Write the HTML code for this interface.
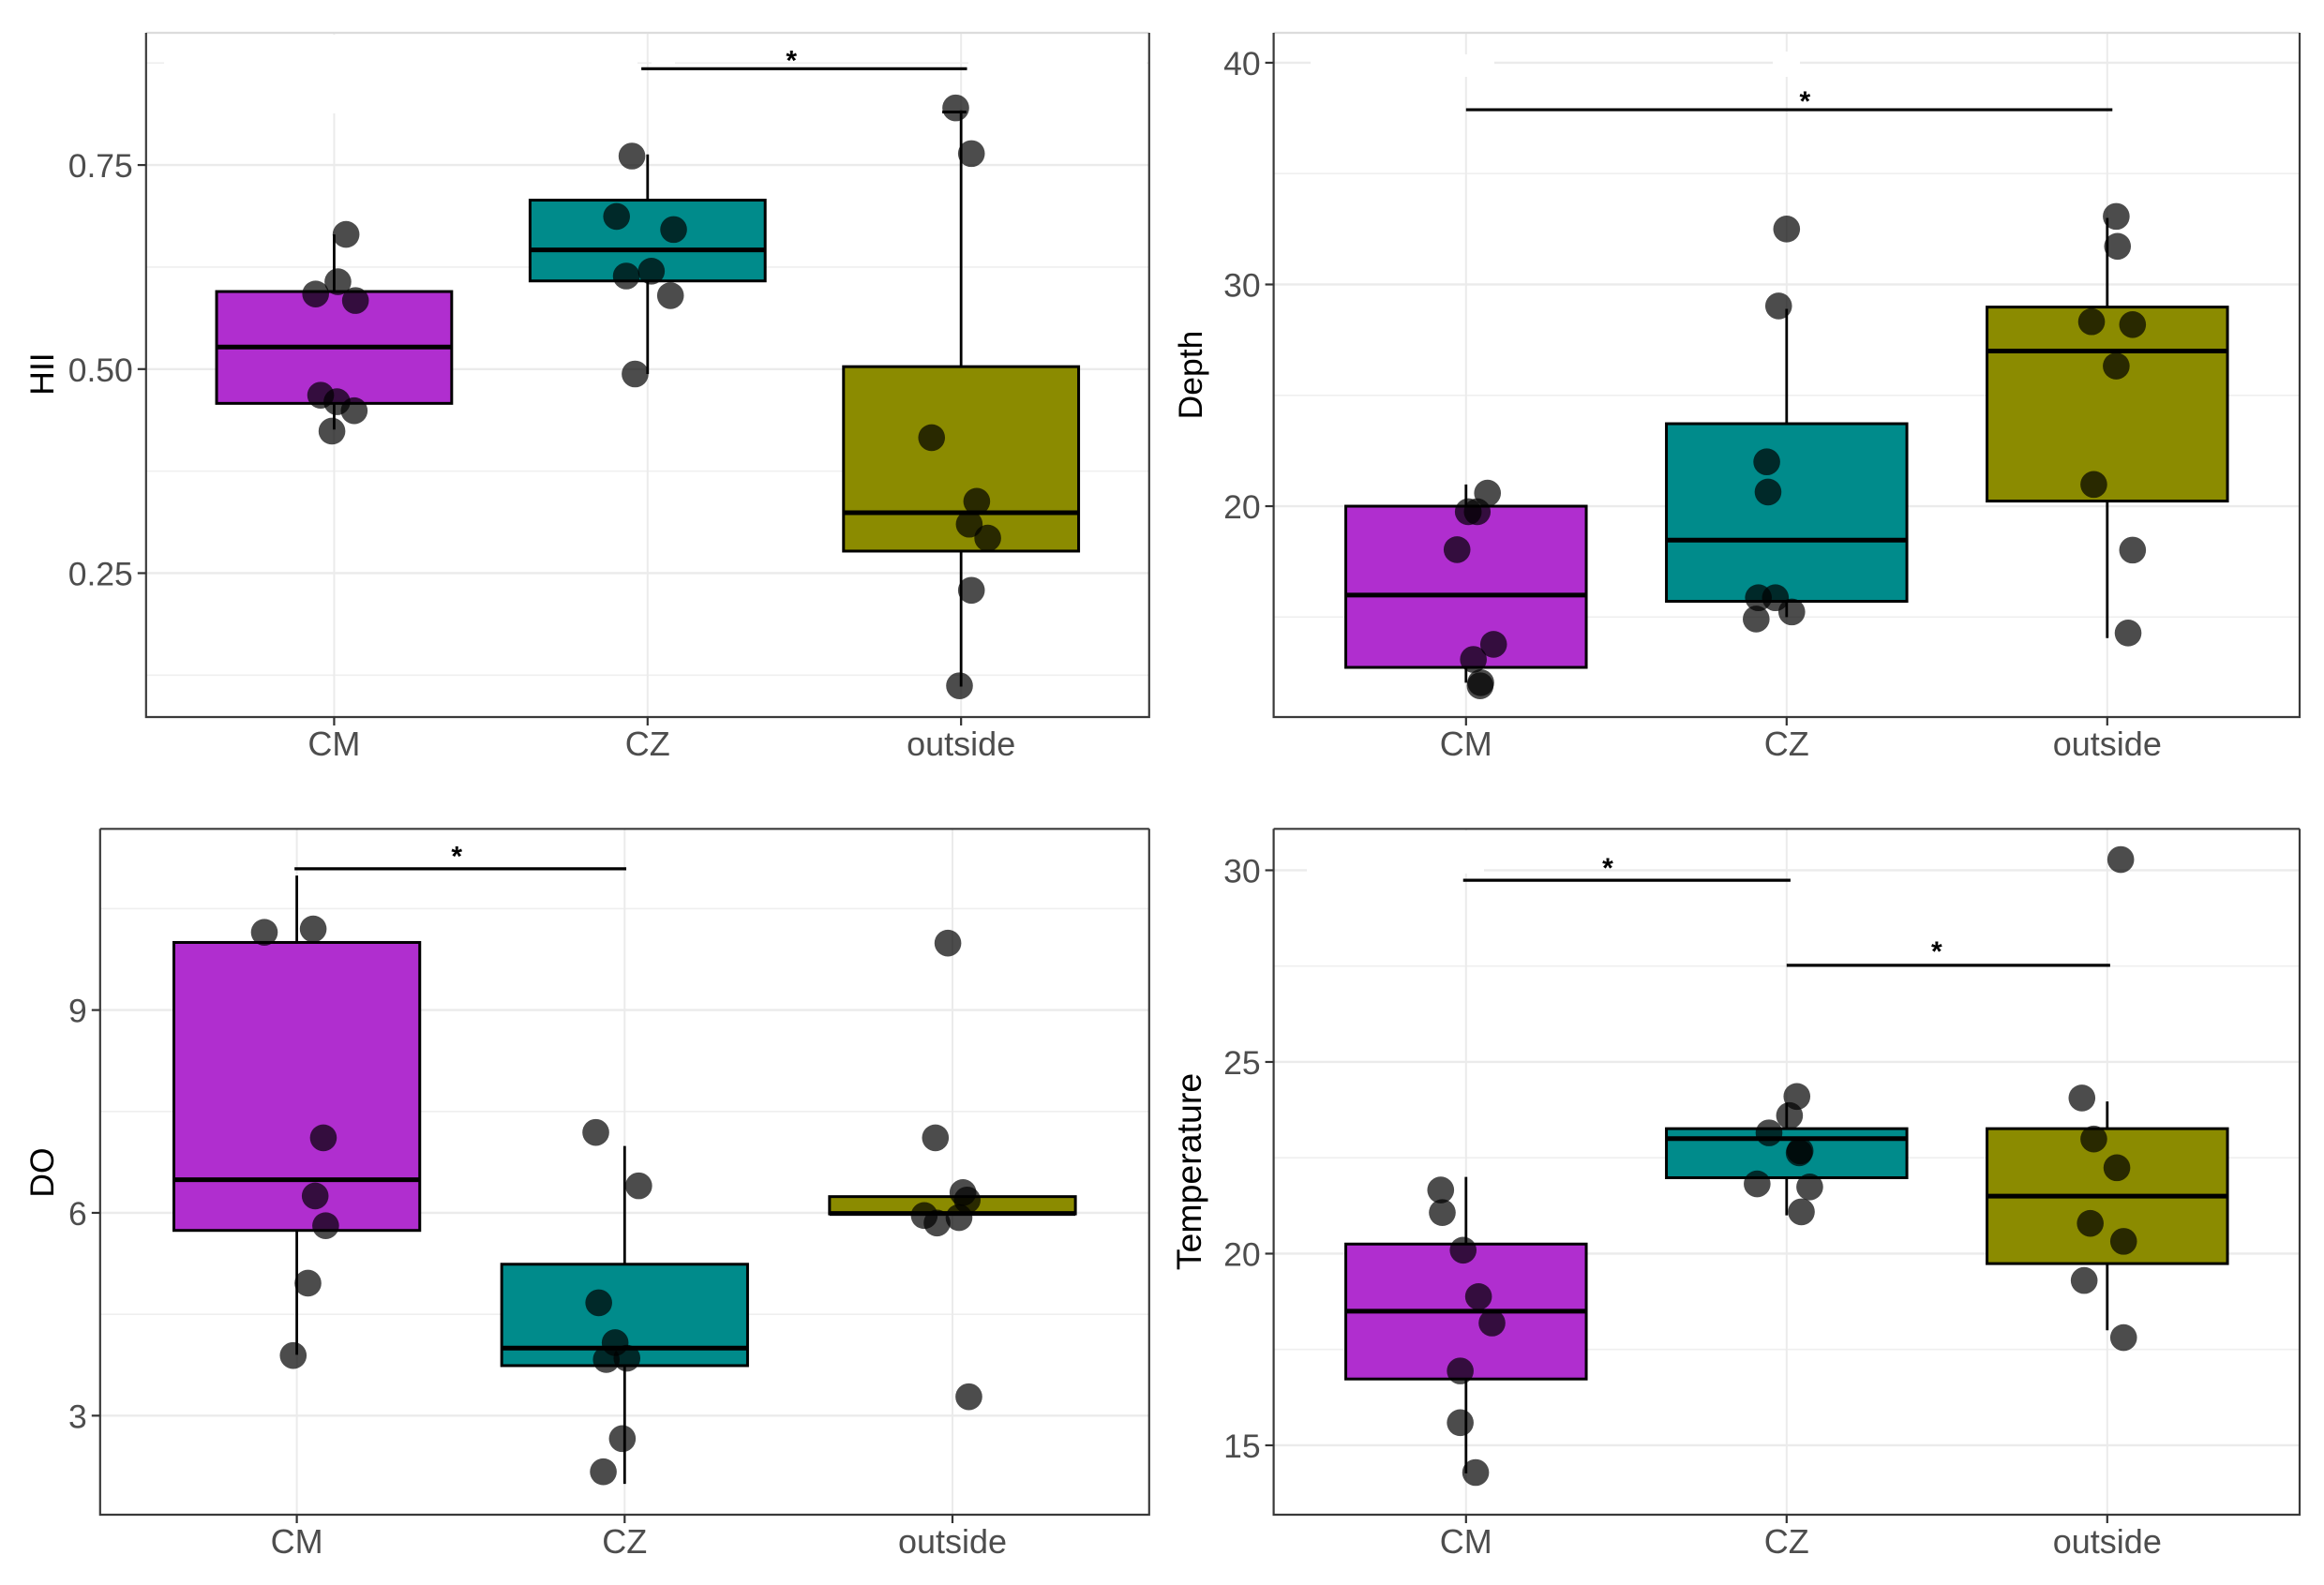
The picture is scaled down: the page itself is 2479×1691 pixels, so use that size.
<!DOCTYPE html>
<html>
<head>
<meta charset="utf-8">
<title>Boxplots of HII, Depth, DO and Temperature</title>
<style>
html,body{margin:0;padding:0;background:#fff;}
svg{display:block;}
text{font-family:"Liberation Sans",sans-serif;}
</style>
</head>
<body>
<svg id="chart" xmlns="http://www.w3.org/2000/svg" width="2479" height="1691" viewBox="0 0 2479 1691"></svg>
<script>
const categories = ['CM', 'CZ', 'outside'];

// HII panel
const hiiTicks = [0.25, 0.5, 0.75];
const hiiTickLabels = ['0.25', '0.50', '0.75'];
const hiiMinorTicks = [0.125, 0.375, 0.625, 0.875];
const hiiQ1 = [0.458, 0.608, 0.277];
const hiiMedian = [0.527, 0.646, 0.324];
const hiiQ3 = [0.595, 0.707, 0.503];
const hiiWhiskerLow = [0.426, 0.494, 0.111];
const hiiWhiskerHigh = [0.665, 0.763, 0.817];
const hiiValues = [
  [0.665, 0.607, 0.592, 0.584, 0.468, 0.460, 0.449, 0.424],
  [0.761, 0.687, 0.671, 0.614, 0.620, 0.590, 0.494],
  [0.820, 0.764, 0.416, 0.338, 0.310, 0.293, 0.229, 0.112]
];
const hiiJitter = [
  [0.038, 0.012, -0.059, 0.068, -0.043, 0.009, 0.064, -0.007],
  [-0.05, -0.099, 0.083, -0.068, 0.012, 0.073, -0.04],
  [-0.017, 0.033, -0.094, 0.05, 0.026, 0.085, 0.033, -0.005]
];
const hiiBrackets = [{from: 0.98, to: 2.019, value: 0.868, star: 1.459, starValue: 0.883}];
const hiiCaps = [{from: 1.94, to: 2.017, value: 0.815}];

// Depth panel
const depthTicks = [20, 30, 40];
const depthTickLabels = ['20', '30', '40'];
const depthMinorTicks = [15, 25, 35];
const depthQ1 = [12.73, 15.71, 20.23];
const depthMedian = [15.99, 18.47, 27.0];
const depthQ3 = [20.0, 23.72, 28.98];
const depthWhiskerLow = [12.04, 15.0, 14.05];
const depthWhiskerHigh = [20.98, 28.9, 33.0];
const depthValues = [
  [20.59, 19.75, 19.75, 18.04, 13.77, 13.09, 12.04, 11.9],
  [32.5, 29.03, 22.0, 20.64, 15.87, 15.87, 15.23, 14.91],
  [33.07, 31.72, 28.32, 28.19, 26.32, 20.98, 18.02, 14.28]
];
const depthJitter = [
  [0.067, 0.035, 0.007, -0.028, 0.086, 0.023, 0.046, 0.044],
  [0, -0.025, -0.062, -0.058, -0.088, -0.035, 0.016, -0.095],
  [0.028, 0.032, -0.049, 0.079, 0.028, -0.042, 0.079, 0.065]
];
const depthBrackets = [{from: 0, to: 2.016, value: 37.88, star: 1.057, starValue: 38.43}];

// DO panel
const doTicks = [3, 6, 9];
const doTickLabels = ['3', '6', '9'];
const doMinorTicks = [4.5, 7.5, 10.5];
const doQ1 = [5.74, 3.74, 5.985];
const doMedian = [6.49, 4.0, 5.99];
const doQ3 = [10.0, 5.24, 6.24];
const doWhiskerLow = [3.9, 1.99, 5.985];
const doWhiskerHigh = [10.99, 6.99, 6.24];
const doValues = [
  [10.15, 10.2, 7.11, 6.25, 5.81, 4.96, 3.89],
  [7.19, 6.4, 4.67, 4.08, 3.83, 3.85, 2.66, 2.17],
  [9.99, 7.11, 6.3, 6.19, 5.96, 5.85, 5.93, 3.28]
];
const doJitter = [
  [-0.099, 0.05, 0.081, 0.056, 0.088, 0.034, -0.011],
  [-0.088, 0.043, -0.079, -0.029, -0.056, 0.007, -0.007, -0.065],
  [-0.014, -0.052, 0.032, 0.045, -0.086, -0.047, 0.02, 0.05]
];
const doBrackets = [{from: -0.007, to: 1.005, value: 11.09, star: 0.488, starValue: 11.33}];

// Temperature panel
const tempTicks = [15, 20, 25, 30];
const tempTickLabels = ['15', '20', '25', '30'];
const tempMinorTicks = [17.5, 22.5, 27.5];
const tempQ1 = [16.73, 21.98, 19.74];
const tempMedian = [18.5, 23.0, 21.5];
const tempQ3 = [20.25, 23.26, 23.26];
const tempWhiskerLow = [14.27, 21.0, 18.0];
const tempWhiskerHigh = [22.0, 23.94, 23.97];
const tempValues = [
  [21.66, 21.07, 20.09, 18.88, 18.19, 16.94, 15.59, 14.29],
  [24.1, 23.6, 23.15, 22.68, 22.63, 21.82, 21.74, 21.09],
  [30.28, 24.06, 22.99, 22.24, 20.79, 20.32, 19.3, 17.81]
];
const tempJitter = [
  [-0.079, -0.074, -0.009, 0.039, 0.081, -0.018, -0.018, 0.03],
  [0.032, 0.009, -0.055, 0.042, 0.039, -0.092, 0.072, 0.046],
  [0.042, -0.079, -0.042, 0.03, -0.053, 0.051, -0.072, 0.051]
];
const tempBrackets = [
  {from: -0.009, to: 1.012, value: 29.74, star: 0.442, starValue: 30.16},
  {from: 1, to: 2.009, value: 27.52, star: 1.468, starValue: 27.98}
];

const fills = ['#b02ecf', '#008b8b', '#8b8b00'];
const NS = 'http://www.w3.org/2000/svg';
const root = document.getElementById('chart');

function make(parent, tag, attrs, content) {
  const node = document.createElementNS(NS, tag);
  for (const key in attrs) node.setAttribute(key, attrs[key]);
  if (content !== undefined) node.textContent = content;
  parent.appendChild(node);
  return node;
}

function drawPanel(cfg) {
  const L = cfg.left, R = cfg.right, T = cfg.top, B = cfg.bottom;
  const step = (R - L) / 3.2;
  const xScale = c => L + (c + 0.6) * step;
  const yScale = v => B - (v - cfg.domain[0]) / (cfg.domain[1] - cfg.domain[0]) * (B - T);

  const g = make(root, 'g', {});
  
  

  cfg.minor.forEach(v => {
    const line = make(g, 'line', {x1: L, x2: R, y1: yScale(v), y2: yScale(v), stroke: '#efefef', 'stroke-width': 1.6});
    
    
  });
  cfg.ticks.forEach(v => {
    const line = make(g, 'line', {x1: L, x2: R, y1: yScale(v), y2: yScale(v), stroke: '#ebebeb', 'stroke-width': 2.4});
    
    
  });
  categories.forEach((c, i) => {
    const line = make(g, 'line', {x1: xScale(i), x2: xScale(i), y1: T, y2: B, stroke: '#ebebeb', 'stroke-width': 2});
    
    
  });

  cfg.erased.forEach(m => {
    const patch = make(g, 'rect', {x: m[0], y: m[1], width: m[2], height: m[3], fill: '#fff'});
    
    
  });

  categories.forEach((c, i) => {
    const cx = xScale(i);
    const halfW = step * 0.375;

    const whisker = make(g, 'line', {x1: cx, x2: cx, y1: yScale(cfg.whiskerHigh[i]), y2: yScale(cfg.whiskerLow[i]), stroke: '#000', 'stroke-width': 2.8});
    
    

    const box = make(g, 'rect', {x: cx - halfW, y: yScale(cfg.q3[i]), width: halfW * 2, height: yScale(cfg.q1[i]) - yScale(cfg.q3[i]), fill: fills[i], stroke: '#000', 'stroke-width': 3});
    
    

    const med = make(g, 'line', {x1: cx - halfW, x2: cx + halfW, y1: yScale(cfg.median[i]), y2: yScale(cfg.median[i]), stroke: '#000', 'stroke-width': 5});
    
    

    cfg.values[i].forEach((v, j) => {
      const dot = make(g, 'circle', {cx: xScale(i + cfg.jitter[i][j]), cy: yScale(v), r: 14.3, fill: '#000', 'fill-opacity': 0.7});
      
      
    });
  });

  cfg.caps.forEach(k => {
    const cap = make(g, 'line', {x1: xScale(k.from), x2: xScale(k.to), y1: yScale(k.value), y2: yScale(k.value), stroke: '#000', 'stroke-width': 3});
    
    
  });

  cfg.brackets.forEach(b => {
    const bar = make(g, 'line', {x1: xScale(b.from), x2: xScale(b.to), y1: yScale(b.value), y2: yScale(b.value), stroke: '#000', 'stroke-width': 3.2});
    
    
    const star = make(g, 'text', {x: xScale(b.star), y: yScale(b.starValue) + 14, 'text-anchor': 'middle', 'font-size': 30, 'font-weight': 'bold', fill: '#000'}, '*');
    
    
  });

  const borderTop = make(g, 'line', {x1: L, x2: R, y1: T, y2: T, stroke: cfg.topColor, 'stroke-width': 2.2});
  
  
  const borderSides = make(g, 'path', {d: 'M' + L + ' ' + T + 'V' + B + 'H' + R + 'V' + T, fill: 'none', stroke: '#3a3a3a', 'stroke-width': 2.2});
  
  

  cfg.ticks.forEach((v, i) => {
    const tick = make(g, 'line', {x1: L - 9, x2: L, y1: yScale(v), y2: yScale(v), stroke: '#333', 'stroke-width': 2.2});
    
    
    const label = make(g, 'text', {x: L - 14, y: yScale(v) + 13, 'text-anchor': 'end', 'font-size': 35.5, fill: '#4d4d4d'}, cfg.tickLabels[i]);
    
    
  });
  categories.forEach((c, i) => {
    const tick = make(g, 'line', {x1: xScale(i), x2: xScale(i), y1: B, y2: B + 9, stroke: '#333', 'stroke-width': 2.2});
    
    
    const label = make(g, 'text', {x: xScale(i), y: B + 41, 'text-anchor': 'middle', 'font-size': 36, fill: '#4d4d4d'}, c);
    
    
  });

  const title = make(g, 'text', {x: 0, y: 0, transform: 'translate(' + cfg.titleX + ' ' + cfg.titleY + ') rotate(-90)', 'text-anchor': 'middle', 'font-size': cfg.titleSize, fill: '#000'}, cfg.title);
  
  
}

drawPanel({
  name: 'hii', title: 'HII', titleX: 57, titleY: 399, titleSize: 35.5,
  left: 155.8, right: 1225.8, top: 35, bottom: 765, domain: [0.0737, 0.912], topColor: '#dcdcdc',
  ticks: hiiTicks, tickLabels: hiiTickLabels, minor: hiiMinorTicks,
  q1: hiiQ1, median: hiiMedian, q3: hiiQ3, whiskerLow: hiiWhiskerLow, whiskerHigh: hiiWhiskerHigh,
  values: hiiValues, jitter: hiiJitter, brackets: hiiBrackets, caps: hiiCaps,
  erased: [[175, 37, 505, 84], [695, 60, 25, 14], [1033, 60, 190, 14]]
});
drawPanel({
  name: 'depth', title: 'Depth', titleX: 1282, titleY: 400, titleSize: 35.5,
  left: 1358.6, right: 2453, top: 35, bottom: 765, domain: [10.49, 41.35], topColor: '#dcdcdc',
  ticks: depthTicks, tickLabels: depthTickLabels, minor: depthMinorTicks,
  q1: depthQ1, median: depthMedian, q3: depthQ3, whiskerLow: depthWhiskerLow, whiskerHigh: depthWhiskerHigh,
  values: depthValues, jitter: depthJitter, brackets: depthBrackets, caps: [],
  erased: [[1398, 58, 196, 24], [1891, 55, 29, 27]]
});
drawPanel({
  name: 'do', title: 'DO', titleX: 57, titleY: 1251, titleSize: 35.5,
  left: 106.8, right: 1225.8, top: 884.3, bottom: 1616, domain: [1.535, 11.68], topColor: '#3a3a3a',
  ticks: doTicks, tickLabels: doTickLabels, minor: doMinorTicks,
  q1: doQ1, median: doMedian, q3: doQ3, whiskerLow: doWhiskerLow, whiskerHigh: doWhiskerHigh,
  values: doValues, jitter: doJitter, brackets: doBrackets, caps: [],
  erased: []
});
drawPanel({
  name: 'temperature', title: 'Temperature', titleX: 1281, titleY: 1250, titleSize: 37.5,
  left: 1358.6, right: 2453, top: 884.3, bottom: 1616, domain: [13.19, 31.08], topColor: '#3a3a3a',
  ticks: tempTicks, tickLabels: tempTickLabels, minor: tempMinorTicks,
  q1: tempQ1, median: tempMedian, q3: tempQ3, whiskerLow: tempWhiskerLow, whiskerHigh: tempWhiskerHigh,
  values: tempValues, jitter: tempJitter, brackets: tempBrackets, caps: [],
  erased: [[1394, 886, 189, 46]]
});
</script>
</body>
</html>
